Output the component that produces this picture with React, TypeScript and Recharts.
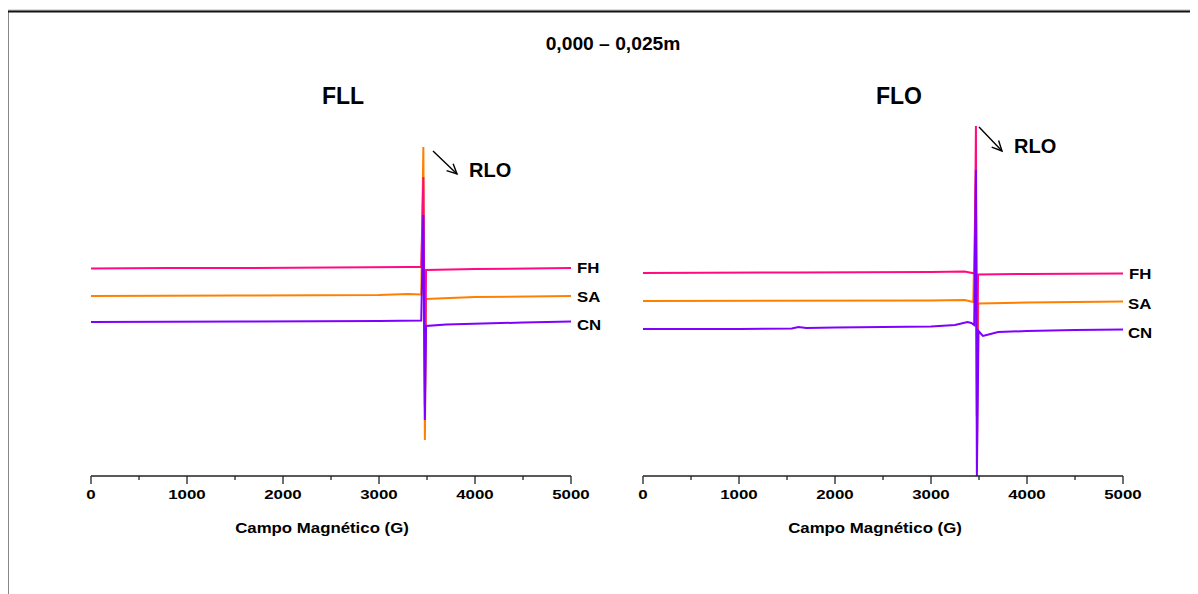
import React from "react";
import { LineChart, Line, XAxis, YAxis } from "recharts";

// ---------------------------------------------------------------------------
// Data — EPR spectra, intensity in arbitrary units
// ---------------------------------------------------------------------------
const FIELD_TICKS = [0, 500, 1000, 1500, 2000, 2500, 3000, 3500, 4000, 4500, 5000];

// FLL panel
const FLL_FH_FIELD = [0, 800, 1600, 2500, 3300, 3440, 3462, 3478, 3490, 4000, 5000];
const FLL_FH_INT = [207.5, 208, 208, 208.5, 209, 209, 299, 70, 206, 207, 208];

const FLL_SA_FIELD = [0, 1500, 3000, 3300, 3440, 3462, 3478, 3490, 4000, 5000];
const FLL_SA_INT = [180, 180.5, 181, 182, 181.5, 329, 36, 177, 179, 180];

const FLL_CN_FIELD = [0, 1600, 3000, 3440, 3462, 3478, 3490, 3700, 4500, 5000];
const FLL_CN_INT = [154, 154.5, 155, 155.5, 261, 56, 150, 151.5, 153.5, 154.5];

// FLO panel
const FLO_FH_FIELD = [0, 1600, 3000, 3350, 3430, 3455, 3468, 3478, 3490, 4000, 5000];
const FLO_FH_INT = [203, 203.5, 204, 204.5, 203, 202.5, 350, 60, 201.5, 202, 202.5];

const FLO_SA_FIELD = [0, 3000, 3350, 3440, 3468, 3480, 3492, 4000, 5000];
const FLO_SA_INT = [175, 175.5, 176, 174, 300, 30, 172.5, 173.5, 174.5];

const FLO_CN_FIELD = [0, 1000, 1550, 1620, 1700, 2000, 3000, 3250, 3380, 3420, 3450, 3468, 3478, 3495, 3540, 3600, 3700, 4000, 4500, 5000];
const FLO_CN_INT = [147, 147, 147.5, 149, 148, 148.5, 149.5, 151, 154, 153, 151, 306, 0, 145, 140, 141.5, 144, 145, 146, 146.5];

const COLORS = { FH: "#ff0a80", SA: "#ff8000", CN: "#8000ff" };
const FONT = "Arial, 'Liberation Sans', sans-serif";

type Pt = { field: number; v: number };
const zip = (f: number[], v: number[]): Pt[] => f.map((x, i) => ({ field: x, v: v[i] }));

type Panel = { FH: Pt[]; SA: Pt[]; CN: Pt[] };

const FLL: Panel = {
  FH: zip(FLL_FH_FIELD, FLL_FH_INT),
  SA: zip(FLL_SA_FIELD, FLL_SA_INT),
  CN: zip(FLL_CN_FIELD, FLL_CN_INT),
};
const FLO: Panel = {
  FH: zip(FLO_FH_FIELD, FLO_FH_INT),
  SA: zip(FLO_SA_FIELD, FLO_SA_INT),
  CN: zip(FLO_CN_FIELD, FLO_CN_INT),
};

// ---------------------------------------------------------------------------
// Axis tick: long ticks + labels every 1000 G, short ticks at 500
// ---------------------------------------------------------------------------
function FieldTick(props: any) {
  const { x, y, payload } = props;
  const major = payload.value % 1000 === 0;
  return (
    <g>
      <line x1={x} x2={x} y1={y} y2={y + (major ? 8 : 4)} stroke="#222" strokeWidth={1.3} />
      {major && (
        <text
          transform={`translate(${x} ${y + 23}) scale(1.25 1)`}
          textAnchor="middle"
          fontSize={13.5}
          fontWeight="bold"
          fontFamily={FONT}
          fill="#000"
        >
          {payload.value}
        </text>
      )}
    </g>
  );
}

function Spectrum({ panel, left }: { panel: Panel; left: number }) {
  return (
    <div style={{ position: "absolute", left, top: 0 }}>
      <LineChart width={600} height={560} margin={{ top: 100, right: 29, bottom: 24, left: 91 }}>
        <XAxis
          dataKey="field"
          type="number"
          domain={[0, 5000]}
          ticks={FIELD_TICKS}
          interval={0}
          tickLine={false}
          tickSize={0}
          tickMargin={0}
          tick={<FieldTick />}
          axisLine={{ stroke: "#222", strokeWidth: 1.3 }}
          height={60}
          allowDuplicatedCategory={false}
        />
        <YAxis hide type="number" domain={[0, 376]} allowDataOverflow />
        {(["SA", "FH", "CN"] as const).map((k) => (
          <Line
            key={k}
            data={panel[k]}
            dataKey="v"
            type="linear"
            stroke={COLORS[k]}
            strokeWidth={2}
            dot={false}
            isAnimationActive={false}
          />
        ))}
      </LineChart>
    </div>
  );
}

function Label({ x, y, size, sx = 1, anchor = "start", children }: any) {
  return (
    <text
      transform={`translate(${x} ${y}) scale(${sx} 1)`}
      textAnchor={anchor}
      fontSize={size}
      fontWeight="bold"
      fontFamily={FONT}
      fill="#000"
    >
      {children}
    </text>
  );
}

function Arrow({ x1, y1, x2, y2 }: { x1: number; y1: number; x2: number; y2: number }) {
  const a = Math.atan2(y2 - y1, x2 - x1);
  const L = 11;
  const w1 = a + Math.PI - 0.45;
  const w2 = a + Math.PI + 0.45;
  return (
    <g stroke="#000" strokeWidth={1.4} fill="none">
      <line x1={x1} y1={y1} x2={x2} y2={y2} />
      <polyline
        points={`${x2 + L * Math.cos(w1)},${y2 + L * Math.sin(w1)} ${x2},${y2} ${x2 + L * Math.cos(w2)},${y2 + L * Math.sin(w2)}`}
      />
    </g>
  );
}

export default function App() {
  return (
    <div
      style={{
        position: "relative",
        margin: "-8px -8px 0 -8px",
        width: 1198,
        height: 594,
        overflow: "hidden",
        background: "#fff",
        fontFamily: FONT,
      }}
    >
      <Spectrum panel={FLL} left={0} />
      <Spectrum panel={FLO} left={552} />
      <svg
        width={1198}
        height={594}
        style={{ position: "absolute", left: 0, top: 0, pointerEvents: "none" }}
      >
        {/* figure frame (runs off the right and bottom edges) */}
        <path d="M 6 600 V 10 H 1205" stroke="#bbb" strokeWidth={1} fill="none" />
        <path d="M 7.5 600 V 11.5 H 1205" stroke="#111" strokeWidth={2} fill="none" />

        <Label x={613} y={50} size={17.5} sx={1.1} anchor="middle">0,000 – 0,025m</Label>
        <Label x={343} y={104} size={23} anchor="middle">FLL</Label>
        <Label x={899} y={104} size={23} anchor="middle">FLO</Label>

        <Arrow x1={433} y1={151} x2={457} y2={174} />
        <Label x={469} y={177} size={20}>RLO</Label>
        <Arrow x1={979} y1={127} x2={1002} y2={151} />
        <Label x={1014} y={153} size={20}>RLO</Label>

        <Label x={577} y={273} size={14} sx={1.2}>FH</Label>
        <Label x={577} y={302} size={14} sx={1.2}>SA</Label>
        <Label x={577} y={330} size={14} sx={1.2}>CN</Label>
        <Label x={1129} y={279} size={14} sx={1.2}>FH</Label>
        <Label x={1128} y={309} size={14} sx={1.2}>SA</Label>
        <Label x={1128} y={338} size={14} sx={1.2}>CN</Label>

        <Label x={322} y={533} size={14.5} sx={1.16} anchor="middle">Campo Magnético (G)</Label>
        <Label x={875} y={533} size={14.5} sx={1.16} anchor="middle">Campo Magnético (G)</Label>
      </svg>
    </div>
  );
}
